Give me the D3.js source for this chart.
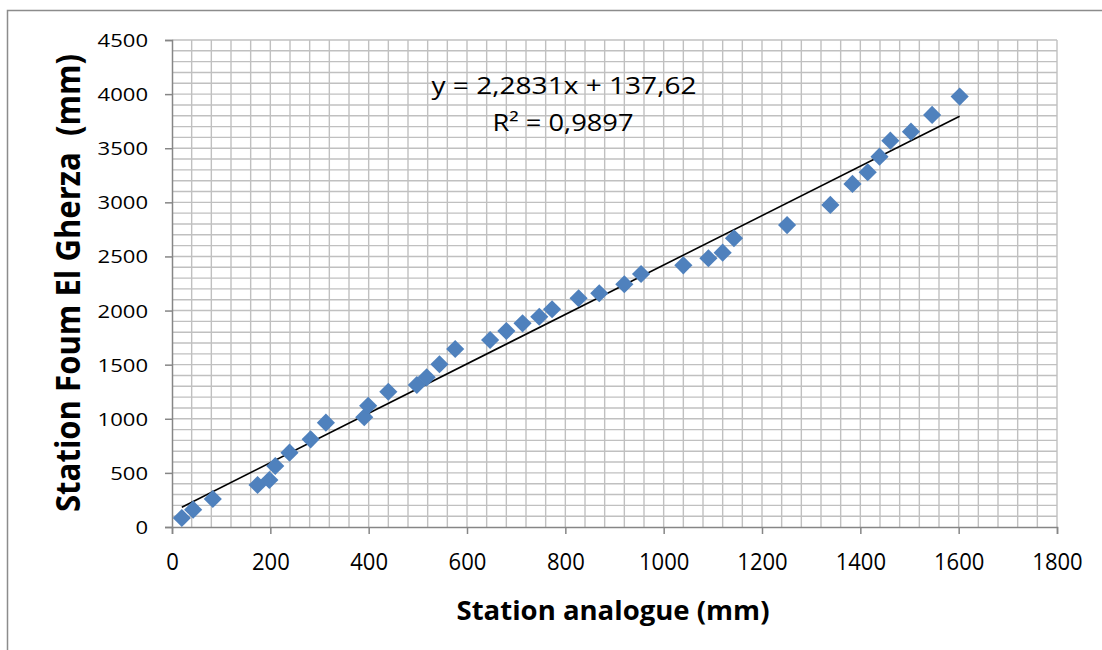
<!DOCTYPE html>
<html>
<head>
  <meta charset="utf-8">
  <script src="https://d3js.org/d3.v7.min.js"></script>
  <style type="text/css">
    body { margin: 0; background: #fff; }
    .tick-label { font-family: "Open Sans", sans-serif; fill: #000; }
    .axis-title { font-family: "Open Sans", sans-serif; font-weight: bold; fill: #000; }
    .equation { font-family: "Open Sans", sans-serif; fill: #000; }
  </style>
</head>
<body>
  <script type="text/javascript">
    // Data
    var analogue = [20, 43, 83, 174, 198, 210, 239, 282, 313, 391, 399, 440, 498, 518, 544, 576,
      647, 680, 713, 747, 773, 827, 869, 920, 954, 1040, 1091, 1120, 1143, 1251,
      1339, 1384, 1415, 1439, 1461, 1503, 1546, 1602];
    var foumElGherza = [83, 160, 259, 388, 434, 564, 687, 810, 964, 1014, 1120, 1250, 1312, 1383, 1504, 1645,
      1728, 1811, 1882, 1943, 2012, 2114, 2160, 2243, 2338, 2418, 2483, 2535, 2668, 2790,
      2976, 3170, 3278, 3422, 3570, 3653, 3808, 3977];
    var xTicks = [0, 200, 400, 600, 800, 1000, 1200, 1400, 1600, 1800];
    var yTicks = [0, 500, 1000, 1500, 2000, 2500, 3000, 3500, 4000, 4500];
    var trend = { slope: 2.2831, intercept: 137.62 };
    var equationLines = ["y = 2,2831x + 137,62", "R\u00b2 = 0,9897"];

    function draw() {
      var width = 1102, height = 650;
      var plotLeft = 172, plotRight = 1057, plotTop = 40, plotBottom = 527;

      var svg = d3.select("body").append("svg")
        .attr("width", width)
        .attr("height", height);

      // outer frame
      svg.append("path")
        .attr("d", "M7.5,650 L7.5,10.5 L1102,10.5")
        .attr("fill", "none")
        .attr("stroke", "#8c8c8c")
        .attr("stroke-width", 1.5);

      var x = d3.scaleLinear().domain([0, 1800]).range([plotLeft, plotRight]);
      var y = d3.scaleLinear().domain([0, 4500]).range([plotBottom, plotTop]);

      // gridlines (minor every 40 on x, every 100 on y)
      var grid = svg.append("g").attr("stroke", "#c0c0c0").attr("stroke-width", 1.4);
      grid.selectAll("line.v")
        .data(d3.range(40, 1801, 40))
        .enter().append("line")
        .attr("x1", d => x(d)).attr("x2", d => x(d))
        .attr("y1", plotTop).attr("y2", plotBottom);
      grid.selectAll("line.h")
        .data(d3.range(100, 4501, 100))
        .enter().append("line")
        .attr("x1", plotLeft).attr("x2", plotRight)
        .attr("y1", d => y(d)).attr("y2", d => y(d));

      // axes
      var xAxis = svg.append("g")
        .attr("transform", "translate(0," + plotBottom + ")")
        .call(d3.axisBottom(x).tickValues(xTicks).tickSize(7).tickFormat(d3.format("d")));
      var yAxis = svg.append("g")
        .attr("transform", "translate(" + plotLeft + ",0)")
        .call(d3.axisLeft(y).tickValues(yTicks).tickSize(7).tickFormat(d3.format("d")));

      [xAxis, yAxis].forEach(function (a) {
        a.select(".domain").attr("stroke", "#868686").attr("stroke-width", 1.5);
        a.selectAll(".tick line").attr("stroke", "#868686").attr("stroke-width", 1.5);
      });

      xAxis.selectAll(".tick text")
        .attr("class", "tick-label")
        .style("font-size", "24px")
        .attr("y", 43)
        .attr("dy", 0)
        .attr("textLength", d => String(d).length * 12.6)
        .attr("lengthAdjust", "spacingAndGlyphs");

      yAxis.selectAll(".tick text")
        .attr("class", "tick-label")
        .style("font-size", "18px")
        .attr("x", -24)
        .attr("dy", "0.36em")
        .attr("textLength", d => String(d).length * 12.6)
        .attr("lengthAdjust", "spacingAndGlyphs");

      // trend line
      var xMin = d3.min(analogue), xMax = d3.max(analogue);
      svg.append("line")
        .attr("x1", x(xMin)).attr("y1", y(trend.slope * xMin + trend.intercept))
        .attr("x2", x(xMax)).attr("y2", y(trend.slope * xMax + trend.intercept))
        .attr("stroke", "#000")
        .attr("stroke-width", 1.6);

      // points
      var diamond = d3.symbol().type(d3.symbolSquare).size(165);
      svg.append("g").selectAll("path")
        .data(analogue.map((d, i) => [d, foumElGherza[i]]))
        .enter().append("path")
        .attr("d", diamond)
        .attr("transform", d => "translate(" + x(d[0]) + "," + y(d[1]) + ") rotate(45)")
        .attr("fill", "#4f81bd");

      // equation
      svg.append("text")
        .attr("class", "equation")
        .attr("x", 564).attr("y", 94)
        .attr("text-anchor", "middle")
        .style("font-size", "23px")
        .attr("textLength", 265)
        .attr("lengthAdjust", "spacingAndGlyphs")
        .text(equationLines[0]);
      svg.append("text")
        .attr("class", "equation")
        .attr("x", 563).attr("y", 131)
        .attr("text-anchor", "middle")
        .style("font-size", "23px")
        .attr("textLength", 141)
        .attr("lengthAdjust", "spacingAndGlyphs")
        .text(equationLines[1]);

      // axis titles
      svg.append("text")
        .attr("class", "axis-title")
        .attr("x", 613).attr("y", 620)
        .attr("text-anchor", "middle")
        .style("font-size", "27px")
        .attr("textLength", 313)
        .attr("lengthAdjust", "spacingAndGlyphs")
        .text("Station analogue (mm)");

      svg.append("text")
        .attr("class", "axis-title")
        .attr("transform", "translate(80,283) rotate(-90)")
        .attr("text-anchor", "middle")
        .style("font-size", "34px")
        .attr("textLength", 458)
        .attr("lengthAdjust", "spacingAndGlyphs")
        .style("white-space", "pre")
        .text("Station Foum El Gherza  (mm)");
    }

    draw();
  </script>
</body>
</html>
